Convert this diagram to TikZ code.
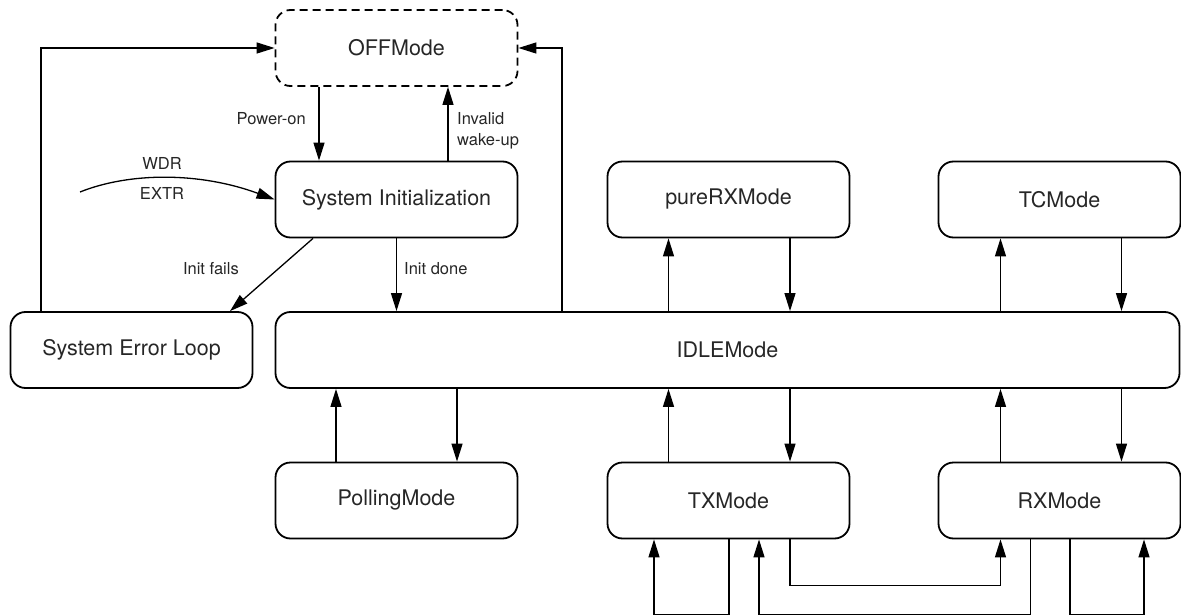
\documentclass[tikz,border=0pt]{standalone}
\usepackage{fontspec}
\setmainfont{TeX Gyre Heros}
\usetikzlibrary{arrows.meta}
\begin{document}
\begin{tikzpicture}[x=1pt,y=-1pt,
  box/.style={draw, line width=1.8pt, rounded corners=15pt, minimum width=242pt, minimum height=76pt, inner sep=0pt, text=black!85, font=\fontsize{21.5}{26}\selectfont},
  conn/.style={line width=1.3pt, -{Triangle[length=18pt,width=11pt]}},
  lbl/.style={font=\fontsize{16.5}{22}\selectfont, inner sep=0pt, text=black!85}]
\useasboundingbox (0,0) rectangle (1181,615);

\node[box, dash pattern=on 8pt off 5pt] (off) at (396.5,48) {OFFMode};
\node[box] (init) at (396.5,199.5) {System Initialization};
\node[box] (pure) at (728.5,199.5) {pureRXMode};
\node[box] (tc) at (1059.5,199.5) {TCMode};
\node[box] (err) at (131.5,350) {System Error Loop};
\node[box, minimum width=904pt] (idle) at (727.5,350) {IDLEMode};
\node[box] (poll) at (396.5,500.5) {PollingMode};
\node[box] (tx) at (728.5,500.5) {TXMode};
\node[box] (rx) at (1059.5,500.5) {RXMode};

% OFF <-> Init
\draw[conn] ([xshift=-77.5pt]off.south) -- ([xshift=-77.5pt]init.north);
\draw[conn] ([xshift=51.5pt]init.north) -- ([xshift=51.5pt]off.south);
\node[lbl, anchor=east] (lpow) at (306,119) {Power-on};
\node[lbl, anchor=west] (linv) at (457,119) {Invalid};
\node[lbl, anchor=west] (lwake) at (457,141) {wake-up};

% WDR / EXTR
\coordinate (wstart) at (80,192);
\draw[conn] (wstart) .. controls (130,172) and (200,172) .. (init.west);
\node[lbl] (lwdr) at (162,163) {WDR};
\node[lbl] (lextr) at (162,193) {EXTR};

% Init -> Error / IDLE
\draw[conn] ([xshift=-83.5pt]init.south) -- ([xshift=98.5pt]err.north);
\node[lbl, anchor=east] (lfail) at (239,269) {Init fails};
\draw[conn] (init.south) -- (init.south |- idle.north);
\node[lbl, anchor=west] (ldone) at (404,269) {Init done};

% back to OFF
\draw[conn] ([xshift=-90.5pt]err.north) |- (off.west);
\draw[conn] ([xshift=-165.5pt]idle.north) |- (off.east);

% IDLE <-> upper modes
\draw[conn] ([xshift=-60pt]pure.south |- idle.north) -- ([xshift=-60pt]pure.south);
\draw[conn] ([xshift=61.5pt]pure.south) -- ([xshift=61.5pt]pure.south |- idle.north);
\draw[conn] ([xshift=-59pt]tc.south |- idle.north) -- ([xshift=-59pt]tc.south);
\draw[conn] ([xshift=62pt]tc.south) -- ([xshift=62pt]tc.south |- idle.north);

% IDLE <-> lower modes
\draw[conn] ([xshift=-60.5pt]poll.north) -- ([xshift=-60.5pt]poll.north |- idle.south);
\draw[conn] ([xshift=60.5pt]poll.north |- idle.south) -- ([xshift=60.5pt]poll.north);
\draw[conn] ([xshift=-60pt]tx.north) -- ([xshift=-60pt]tx.north |- idle.south);
\draw[conn] ([xshift=61.5pt]tx.north |- idle.south) -- ([xshift=61.5pt]tx.north);
\draw[conn] ([xshift=-59pt]rx.north) -- ([xshift=-59pt]rx.north |- idle.south);
\draw[conn] ([xshift=62pt]rx.north |- idle.south) -- ([xshift=62pt]rx.north);

% bottom loops
\draw[conn] ([xshift=0.5pt]tx.south) -- ++(0,75) -| ([xshift=-74.5pt]tx.south);
\draw[conn] ([xshift=61.5pt]tx.south) -- ++(0,46) -| ([xshift=-59pt]rx.south);
\draw[conn] ([xshift=-29pt]rx.south) -- ++(0,75) -| ([xshift=30.5pt]tx.south);
\draw[conn] ([xshift=10.5pt]rx.south) -- ++(0,75) -| ([xshift=84.5pt]rx.south);
\end{tikzpicture}
\end{document}
